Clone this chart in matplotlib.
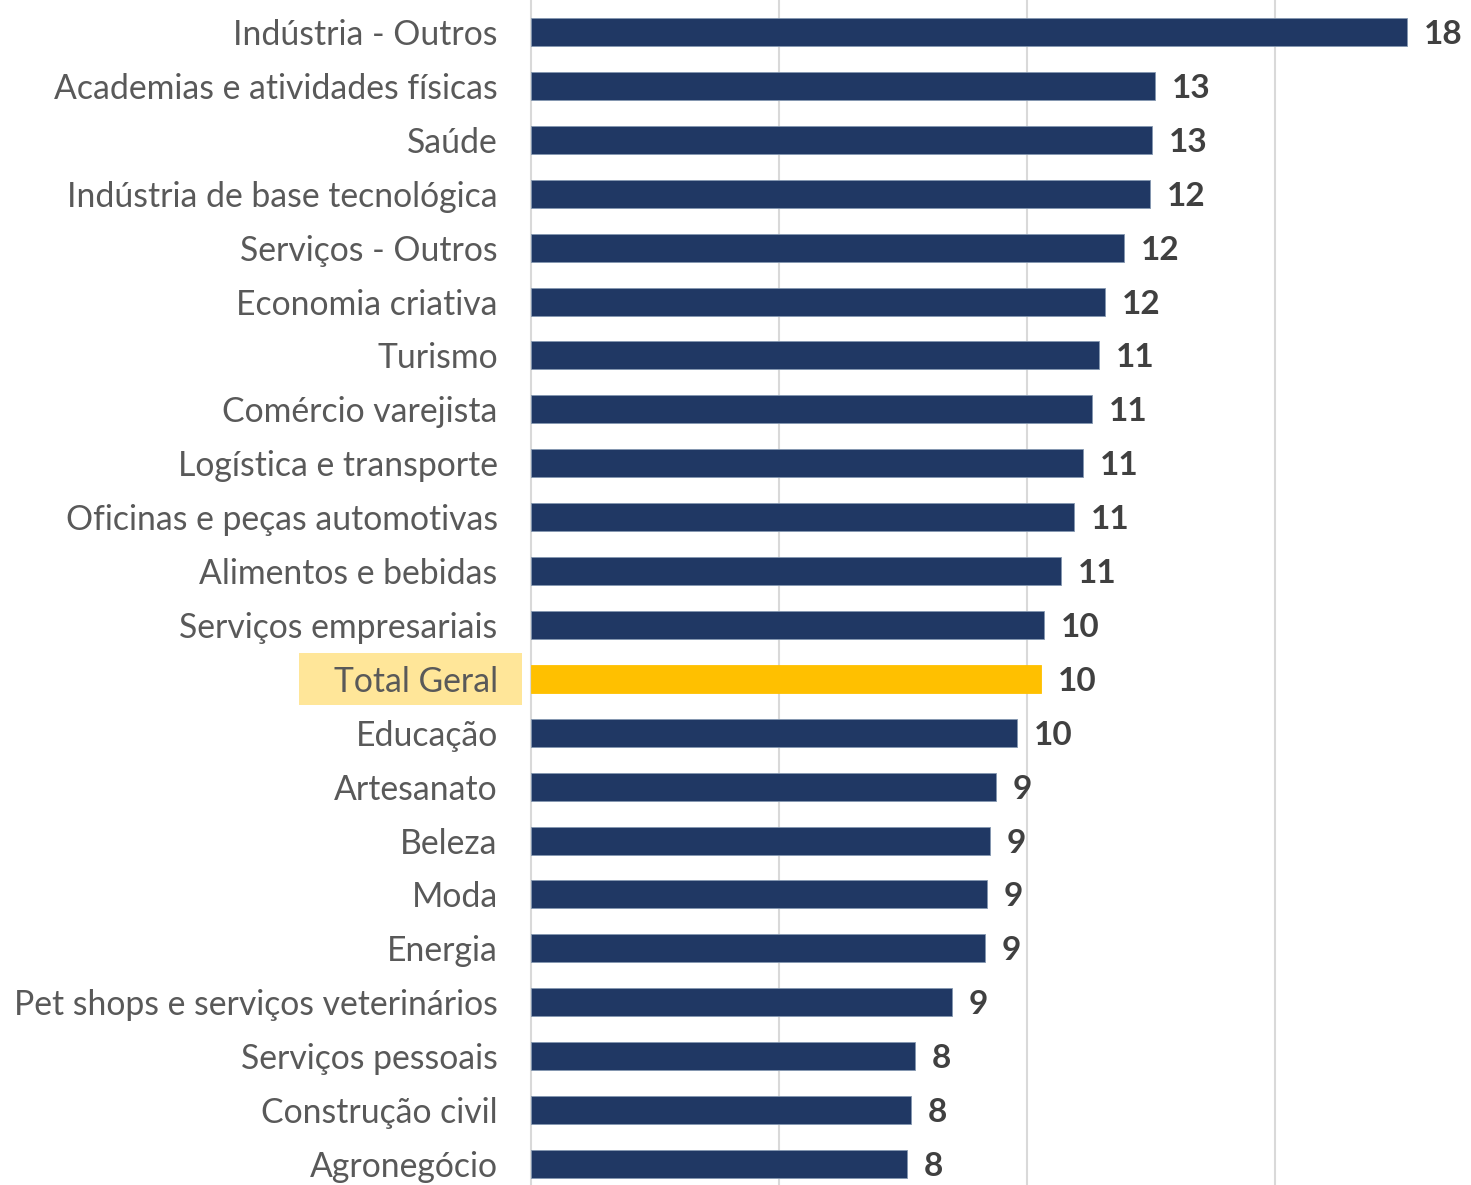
import matplotlib.pyplot as plt
from matplotlib.patches import Rectangle

categorias = ['Indústria - Outros', 'Academias e atividades físicas', 'Saúde',
              'Indústria de base tecnológica', 'Serviços - Outros', 'Economia criativa',
              'Turismo', 'Comércio varejista', 'Logística e transporte',
              'Oficinas e peças automotivas', 'Alimentos e bebidas',
              'Serviços empresariais', 'Total Geral', 'Educação', 'Artesanato',
              'Beleza', 'Moda', 'Energia', 'Pet shops e serviços veterinários',
              'Serviços pessoais', 'Construção civil', 'Agronegócio']
valores = [17.66, 12.58, 12.52, 12.48, 11.96, 11.57, 11.45, 11.31, 11.13, 10.95, 10.69,
           10.34, 10.28, 9.80, 9.38, 9.25, 9.19, 9.15, 8.49, 7.74, 7.66, 7.58]
rotulos = ['18', '13', '13', '12', '12', '12', '11', '11', '11', '11', '11',
           '10', '10', '10', '9', '9', '9', '9', '9', '8', '8', '8']

azul = '#203864'
amarelo = '#FFC000'
destaque = 'Total Geral'

plt.rcParams['font.family'] = ['Lato', 'DejaVu Sans']

fig = plt.figure(figsize=(14.71, 11.85), dpi=100)
ax = fig.add_axes([531 / 1471, 0.0, 940 / 1471, 1.0])

y = list(range(len(categorias)))
cores = [amarelo if c == destaque else azul for c in categorias]
barras = ax.barh(y, valores, height=0.52, color=cores, edgecolor='#8497B0',
                 linewidth=0.6, zorder=3)
for b, c in zip(barras, categorias):
    if c == destaque:
        b.set_edgecolor(amarelo)

txts = ax.bar_label(barras, labels=rotulos, padding=12, fontsize=24, fontweight='bold',
                    color='#404040')
for t in txts:
    t.set_va('center_baseline')

ax.set_ylim(21.39, -0.594)
ax.set_xlim(0, 940 / 49.6)
ax.set_xticks([5, 10, 15])
ax.tick_params(axis='x', length=0, labelbottom=False)
ax.grid(axis='x', color='#D9D9D9', linewidth=1.5, zorder=0)

ax.set_yticks(y)
ax.set_yticklabels(categorias, fontsize=24.3, color='#595959')
ax.tick_params(axis='y', length=0, pad=24)

for s in ['top', 'right', 'bottom']:
    ax.spines[s].set_visible(False)
ax.spines['left'].set_color('#D9D9D9')
ax.spines['left'].set_linewidth(1.5)

# caixa de destaque atrás do rótulo "Total Geral"
i = categorias.index(destaque)
trans = ax.get_yaxis_transform()
ax.add_patch(Rectangle((-232 / 940, i - 0.48), 223 / 940, 0.96, transform=trans,
                       facecolor='#FFE699', edgecolor='none', clip_on=False, zorder=0))

fig.savefig('out.png', dpi=100)
